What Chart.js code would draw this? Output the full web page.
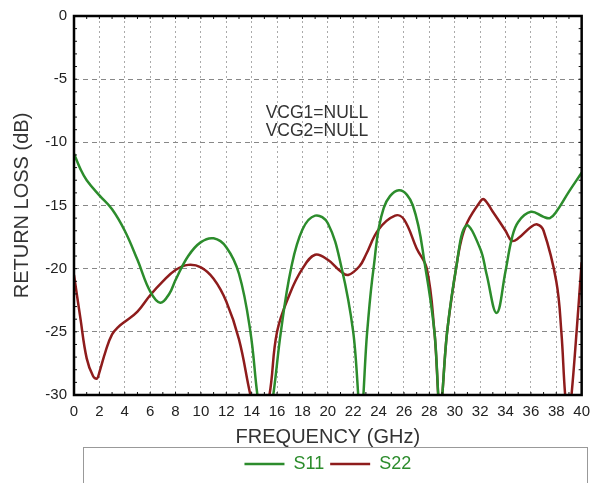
<!DOCTYPE html>
<html>
<head>
<meta charset="utf-8">
<script src="https://cdn.jsdelivr.net/npm/chart.js@4"></script>
<style>
  html, body { margin: 0; padding: 0; background: #fff; }
  #wrap { width: 598px; height: 483px; }
</style>
</head>
<body>
<div id="wrap"><canvas id="chart" width="598" height="483"></canvas></div>
<script>
// frequencies (GHz) and return loss (dB)
const freqS11 = [0, 0.5, 1, 2, 3, 4, 5, 6, 6.8, 7.5, 8, 9, 10, 11, 12, 13, 13.9, 14.45, 15.05, 15.7, 16.3, 17.1, 18, 19, 20, 21.1, 22, 22.6, 23.1, 23.6, 24.4, 25.6, 26.7, 27.7, 28.4, 28.85, 29.4, 30.1, 30.9, 32, 32.5, 33.3, 34, 34.5, 35, 36, 37, 37.5, 38, 39, 40];
const s11 = [-10.9, -12.1, -13.0, -14.2, -15.3, -17.0, -19.3, -21.8, -22.7, -22.0, -20.9, -19.0, -17.9, -17.6, -18.3, -20.4, -25, -30, -34, -30, -25, -20, -16.9, -15.8, -16.4, -20, -25, -31.5, -25, -20, -15.2, -13.8, -15, -20, -25, -31, -25, -20, -16.6, -18.4, -20.4, -23.5, -20.2, -17.6, -16.3, -15.5, -15.9, -16.0, -15.5, -13.9, -12.4];

const freqS22 = [0, 0.5, 1, 1.5, 1.8, 2, 2.5, 3, 3.5, 4, 5, 6, 7, 8, 9, 10, 11, 12, 13, 13.9, 14.65, 15.4, 16, 17, 18, 19, 20, 21, 21.6, 22.5, 23, 24, 25.3, 26, 27, 27.8, 28.4, 28.85, 29.4, 30.1, 30.5, 31, 32, 32.3, 33, 34, 34.5, 35, 36, 36.5, 37, 38, 38.4, 38.7, 38.95, 39.2, 39.6, 40];
const s22 = [-20.5, -23.9, -27.1, -28.5, -28.7, -28.2, -26.5, -25.2, -24.6, -24.2, -23.4, -22.1, -21.0, -20.1, -19.7, -19.9, -20.8, -22.6, -25.6, -30, -33, -30, -25, -22.0, -20, -18.9, -19.3, -20.2, -20.5, -19.8, -18.9, -16.9, -15.8, -16.1, -18.4, -20, -25, -31, -25, -20, -17.8, -16.3, -14.7, -14.5, -15.5, -17.0, -17.8, -17.6, -16.7, -16.5, -17.0, -21.0, -25, -30, -32, -30, -25, -19.5];

const xTicks = [0, 2, 4, 6, 8, 10, 12, 14, 16, 18, 20, 22, 24, 26, 28, 30, 32, 34, 36, 38, 40];
const yTicks = [0, -5, -10, -15, -20, -25, -30];
const notes = ['VCG1=NULL', 'VCG2=NULL'];

const FONT = '"Liberation Sans", Arial, sans-serif';
const pts = (xs, ys) => xs.map((x, i) => ({ x: x, y: ys[i] }));

// frame, minor ticks, note text and legend box
const extras = {
    id: 'extras',
    afterDraw(chart) {
        const { ctx, chartArea: a, scales: { x, y } } = chart;
        ctx.save();
        ctx.strokeStyle = '#111';
        ctx.lineWidth = 1;
        for (let v = 1; v < 40; v++) {
            const px = x.getPixelForValue(v);
            ctx.beginPath();
            ctx.moveTo(px, a.bottom); ctx.lineTo(px, a.bottom - 3);
            ctx.moveTo(px, a.top); ctx.lineTo(px, a.top + 3);
            ctx.stroke();
        }
        for (let v = -29; v < 0; v++) {
            const py = y.getPixelForValue(v);
            ctx.beginPath();
            ctx.moveTo(a.left, py); ctx.lineTo(a.left + 3, py);
            ctx.moveTo(a.right, py); ctx.lineTo(a.right - 3, py);
            ctx.stroke();
        }
        ctx.lineWidth = 2.5;
        ctx.strokeStyle = '#000';
        ctx.strokeRect(a.left, a.top, a.right - a.left, a.bottom - a.top);

        ctx.fillStyle = '#333';
        ctx.font = '17.5px ' + FONT;
        ctx.textBaseline = 'middle';
        ctx.fillText(notes[0], x.getPixelForValue(15.1), y.getPixelForValue(-7.7));
        ctx.fillText(notes[1], x.getPixelForValue(15.1), y.getPixelForValue(-9.15));

        ctx.lineWidth = 1;
        ctx.strokeStyle = '#999';
        ctx.strokeRect(83.5, 447.5, 504, 60);
        ctx.restore();
    }
};

new Chart(document.getElementById('chart'), {
    type: 'line',
    data: {
        datasets: [
            { label: 'S11', data: pts(freqS11, s11), borderColor: '#2c8c2c', backgroundColor: '#2c8c2c', borderWidth: 2.5, pointRadius: 0, tension: 0.4, capBezierPoints: false, clip: 0 },
            { label: 'S22', data: pts(freqS22, s22), borderColor: '#8e1c1c', backgroundColor: '#8e1c1c', borderWidth: 2.5, pointRadius: 0, tension: 0.4, capBezierPoints: false, clip: 0 }
        ]
    },
    options: {
        responsive: false,
        animation: false,
        events: [],
        layout: { padding: { left: 10, right: 10, top: 14, bottom: 0 } },
        scales: {
            x: {
                type: 'linear', min: 0, max: 40,
                afterBuildTicks: s => { s.ticks = xTicks.map(v => ({ value: v })); },
                afterFit: s => { s.height = 54; },
                ticks: { color: '#222', padding: 8, maxRotation: 0, autoSkip: false, font: { size: 15, family: FONT } },
                grid: { color: '#aaa', drawTicks: false, lineWidth: 1 },
                border: { display: false, dash: [2, 3] },
                title: { display: true, text: 'FREQUENCY (GHz)', color: '#333', padding: { top: 3, bottom: 0 }, font: { size: 20, family: FONT } }
            },
            y: {
                min: -30, max: 0,
                afterBuildTicks: s => { s.ticks = yTicks.map(v => ({ value: v })); },
                afterFit: s => { s.width = 64; },
                ticks: { color: '#222', padding: 7, font: { size: 15, family: FONT } },
                grid: { color: '#888', drawTicks: false, lineWidth: 1 },
                border: { display: false, dash: [5, 4] },
                title: { display: true, text: 'RETURN LOSS (dB)', color: '#333', padding: { top: 0, bottom: 2 }, font: { size: 20, family: FONT } }
            }
        },
        plugins: {
            legend: {
                position: 'bottom',
                fullSize: false,
                labels: {
                    usePointStyle: true, pointStyle: 'line', pointStyleWidth: 40,
                    color: '#2c8c2c', padding: 6,
                    font: { size: 18, family: FONT }
                }
            },
            tooltip: { enabled: false }
        }
    },
    plugins: [extras]
});
</script>
</body>
</html>
